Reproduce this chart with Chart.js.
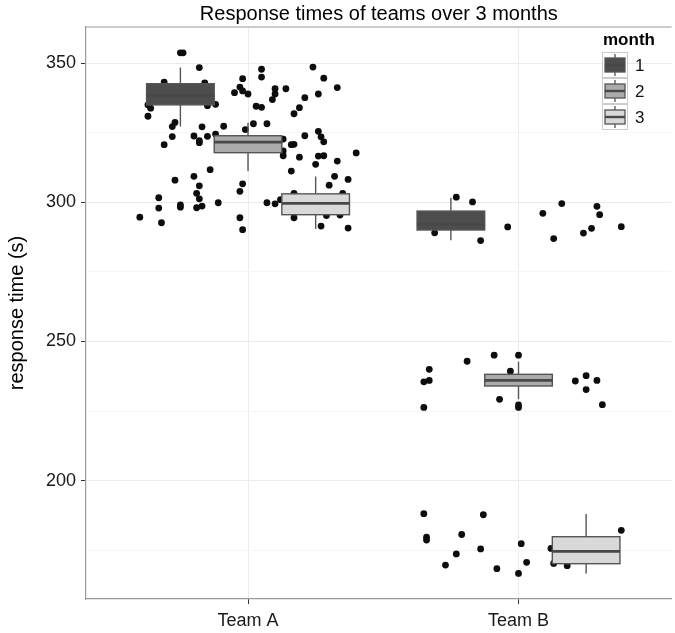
<!DOCTYPE html>
<html>
<head>
<meta charset="utf-8">
<script src="https://cdn.jsdelivr.net/npm/chart.js@4/dist/chart.umd.min.js"></script>
<style>
  html, body { margin: 0; padding: 0; background: #ffffff; }
  #wrap { width: 675px; height: 633px; }
</style>
</head>
<body>
<div id="wrap"><canvas id="c" width="675" height="633"></canvas></div>
<script>
// ---- data ----
const teams = ['Team A', 'Team B'];
const months = ['1', '2', '3'];
const yTicks = [175, 200, 225, 250, 275, 300, 325, 350];

// box statistics per team (rows) and month (columns)
const whiskerLow = [[327.3, 311.3, 290.5], [286.4, 229.2, 166.6]];
const q1         = [[335.1, 317.9, 295.6], [290.1, 234.0, 170.1]];
const median     = [[338.5, 321.7, 299.7], [292.0, 236.0, 174.5]];
const q3         = [[342.7, 324.0, 303.1], [296.9, 238.2, 179.8]];
const whiskerHigh= [[348.5, 328.7, 309.3], [301.7, 242.7, 188.0]];

// jittered observations: [jittered team position, response time]
const teamAPoints = [
  [0.75,353.8],[0.76,353.8],[0.82,348.5],[0.69,343.3],[0.84,343.0],[0.63,335.1],[0.64,333.9],
  [0.63,331.0],[0.85,334.8],[0.88,335.3],[0.73,328.8],[0.72,327.3],[0.72,323.7],[0.69,320.8],
  [0.83,327.2],[0.80,323.9],[0.85,323.8],[0.82,322.2],[0.82,321.5],[0.88,324.6],[0.91,327.4],
  [0.86,311.8],[0.73,308.0],[0.80,309.4],[0.82,306.0],[0.81,303.3],[0.82,301.3],[0.67,301.7],
  [0.67,298.0],[0.75,299.1],[0.75,298.3],[0.81,298.1],[0.83,298.7],[0.89,299.9],[0.60,294.7],
  [0.68,292.7],[0.97,294.5],[0.98,290.2],[0.97,304.0],[0.98,306.7],[1.07,299.9],[1.10,299.5],
  [1.12,301.0],[1.16,311.3],[1.19,316.3],[1.13,316.8],[1.13,318.5],[1.13,322.8],[1.16,320.8],
  [1.17,320.9],[1.21,324.0],[1.26,325.6],[1.27,323.6],[1.28,321.8],[1.26,316.7],[1.28,316.8],
  [1.25,313.7],[1.33,314.9],[1.40,317.8],[1.32,309.4],[1.37,308.3],[1.30,306.2],[1.17,294.5],
  [1.29,295.3],[1.27,291.5],[1.37,290.8],[1.17,303.3],[1.35,303.3],[1.34,295.5],[0.98,344.5],
  [0.97,341.5],[0.95,339.5],[0.98,340.1],[1.00,339.0],[1.05,347.9],[1.05,345.1],[1.10,340.9],
  [1.10,339.0],[1.09,337.0],[1.14,340.9],[1.03,334.6],[1.05,334.2],[1.02,328.3],[1.07,328.3],
  [0.99,326.2],[1.24,348.7],[1.28,344.7],[1.33,341.3],[1.26,339.0],[1.21,337.7],[1.19,334.1],
  [1.17,331.9]
];
const teamBPoints = [
  [1.77,301.9],[1.83,300.2],[1.69,289.1],[1.86,286.3],[1.96,291.2],[2.09,296.1],[2.16,299.6],
  [2.29,298.6],[2.30,295.6],[2.13,287.0],[2.24,289.0],[2.27,290.7],[2.38,291.3],
  [1.67,240.0],[1.65,235.5],[1.67,236.0],[1.65,226.3],[1.81,242.9],[1.91,245.1],[2.00,245.1],
  [1.97,239.3],[1.93,229.2],[2.00,227.2],[2.00,226.3],[2.21,235.8],[2.25,237.7],[2.29,236.0],
  [2.25,232.7],[2.31,227.3],
  [1.65,188.1],[1.66,179.6],[1.66,178.6],[1.87,187.7],[1.79,180.6],[1.77,173.6],[1.86,175.4],
  [1.73,169.6],[1.92,168.3],[2.00,166.6],[2.01,177.3],[2.03,170.6],[2.12,175.6],[2.13,170.2],
  [2.18,169.4],[2.38,182.1]
];

// ---- styles ----
const FONT = '"Liberation Sans", Arial, Helvetica, sans-serif';
const monthFills = ['#4d4d4d', '#ababab', '#d9d9d9'];
const LINE = '#555555';
const DODGE = 0.25;   // width of one dodged box in team units

const boxPlugin = {
  id: 'boxes',
  afterDatasetsDraw(chart) {
    const { ctx, chartArea, scales: { x, y } } = chart;
    ctx.save();
    ctx.beginPath();
    ctx.rect(chartArea.left, chartArea.top, chartArea.right - chartArea.left, chartArea.bottom - chartArea.top);
    ctx.clip();
    teams.forEach((t, ti) => {
      months.forEach((m, mi) => {
        const c = ti + 1 + (mi - 1) * DODGE;
        const xl = x.getPixelForValue(c - DODGE / 2);
        const xr = x.getPixelForValue(c + DODGE / 2);
        const xc = x.getPixelForValue(c);
        const yLo = y.getPixelForValue(whiskerLow[ti][mi]);
        const yQ1 = y.getPixelForValue(q1[ti][mi]);
        const yMed = y.getPixelForValue(median[ti][mi]);
        const yQ3 = y.getPixelForValue(q3[ti][mi]);
        const yHi = y.getPixelForValue(whiskerHigh[ti][mi]);
        ctx.strokeStyle = LINE;
        ctx.lineWidth = 1.4;
        ctx.beginPath();
        ctx.moveTo(xc, yHi); ctx.lineTo(xc, yQ3);
        ctx.moveTo(xc, yQ1); ctx.lineTo(xc, yLo);
        ctx.stroke();
        ctx.fillStyle = monthFills[mi];
        ctx.fillRect(xl, yQ3, xr - xl, yQ1 - yQ3);
        ctx.strokeRect(xl, yQ3, xr - xl, yQ1 - yQ3);
        ctx.lineWidth = 2.8;
        ctx.strokeStyle = '#484848';
        ctx.beginPath();
        ctx.moveTo(xl, yMed); ctx.lineTo(xr, yMed);
        ctx.stroke();
      });
    });
    ctx.restore();
  }
};

const framePlugin = {
  id: 'frame',
  afterDraw(chart) {
    const { ctx, chartArea } = chart;
    ctx.save();
    ctx.strokeStyle = '#999999';
    ctx.lineWidth = 1.2;
    ctx.beginPath();
    ctx.moveTo(chartArea.left, chartArea.top);
    ctx.lineTo(chartArea.right, chartArea.top);
    ctx.stroke();

    // legend
    const lx = 602, ly = 52, key = 26;
    ctx.fillStyle = '#000';
    ctx.font = 'bold 17px ' + FONT;
    ctx.textBaseline = 'middle';
    ctx.textAlign = 'left';
    ctx.fillText('month', lx + 1, 40);
    months.forEach((m, i) => {
      const top = ly + i * key;
      ctx.fillStyle = '#ffffff';
      ctx.fillRect(lx, top, key, key);
      ctx.strokeStyle = '#cccccc';
      ctx.lineWidth = 1;
      ctx.strokeRect(lx + 0.5, top + 0.5, key - 1, key - 1);
      const cx = lx + key / 2;
      ctx.strokeStyle = LINE;
      ctx.lineWidth = 1.3;
      ctx.beginPath();
      ctx.moveTo(cx, top + 2); ctx.lineTo(cx, top + 6);
      ctx.moveTo(cx, top + 20); ctx.lineTo(cx, top + 24);
      ctx.stroke();
      ctx.fillStyle = monthFills[i];
      ctx.fillRect(lx + 3, top + 6, key - 6, 14);
      ctx.strokeRect(lx + 3, top + 6, key - 6, 14);
      ctx.lineWidth = 2.4;
      ctx.strokeStyle = '#484848';
      ctx.beginPath();
      ctx.moveTo(lx + 3, top + 13); ctx.lineTo(lx + key - 3, top + 13);
      ctx.stroke();
      ctx.fillStyle = '#111';
      ctx.font = '17px ' + FONT;
      ctx.fillText(m, lx + key + 7, top + key / 2 + 1);
    });
    ctx.restore();
  }
};

new Chart(document.getElementById('c'), {
  type: 'scatter',
  data: {
    datasets: [
      { label: 'Team A', data: teamAPoints.map(p => ({ x: p[0], y: p[1] })) },
      { label: 'Team B', data: teamBPoints.map(p => ({ x: p[0], y: p[1] })) }
    ]
  },
  options: {
    responsive: false,
    animation: false,
    devicePixelRatio: 1,
    layout: { padding: 0 },
    elements: {
      point: { radius: 3.4, backgroundColor: '#0d0d0d', borderWidth: 0, hoverRadius: 3.4 }
    },
    plugins: {
      legend: { display: false },
      tooltip: { enabled: false },
      title: {
        display: true,
        text: 'Response times of teams over 3 months',
        fullSize: false,
        color: '#000',
        font: { family: FONT, size: 20, weight: 'normal' },
        padding: { top: 2, bottom: 1 }
      }
    },
    scales: {
      x: {
        type: 'linear',
        min: 0.401,
        max: 2.566,
        afterBuildTicks: (s) => { s.ticks = teams.map((t, i) => ({ value: i + 1 })); },
        afterFit: (s) => { s.height = 34; },
        ticks: {
          autoSkip: false,
          color: '#1a1a1a',
          font: { family: FONT, size: 18 },
          padding: 6,
          maxRotation: 0,
          callback: (v) => teams[v - 1]
        },
        grid: { color: '#ebebeb', lineWidth: 1, tickLength: 5, tickColor: '#333333' },
        border: { color: '#999999', width: 1.2 }
      },
      y: {
        type: 'linear',
        min: 157.4,
        max: 363.1,
        afterBuildTicks: (s) => { s.ticks = yTicks.map(v => ({ value: v })); },
        afterFit: (s) => { s.width = 86; },
        ticks: {
          autoSkip: false,
          color: '#1a1a1a',
          font: { family: FONT, size: 18 },
          padding: 5,
          callback: (v) => (v % 50 === 0 ? String(v) : '')
        },
        grid: {
          color: (c) => (c.tick && c.tick.value % 50 === 0 ? '#ebebeb' : '#f6f6f6'),
          lineWidth: 1,
          tickLength: 5,
          tickColor: (c) => (c.tick && c.tick.value % 50 === 0 ? '#333333' : 'rgba(0,0,0,0)')
        },
        border: { color: '#999999', width: 1.2 },
        title: {
          display: true,
          text: 'response time (s)',
          color: '#000',
          font: { family: FONT, size: 20 },
          padding: { top: 5, bottom: 0 }
        }
      }
    }
  },
  plugins: [boxPlugin, framePlugin]
});
</script>
</body>
</html>
